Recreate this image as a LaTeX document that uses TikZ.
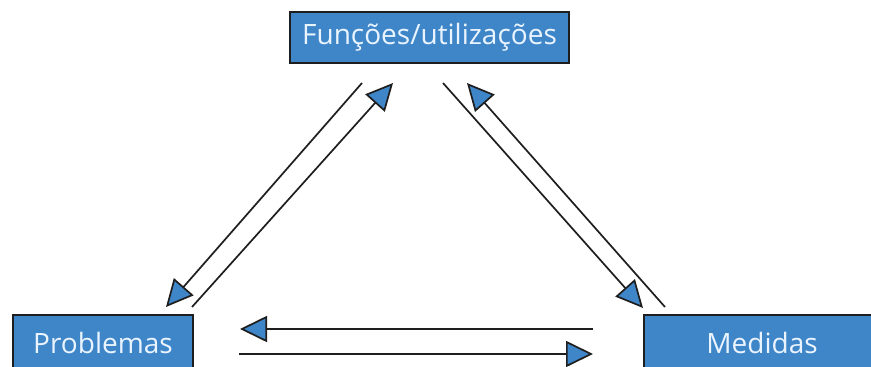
\documentclass[tikz,border=0pt]{standalone}
\usepackage{fontspec}
\setmainfont{Open Sans}
\usetikzlibrary{arrows.meta}
\definecolor{boxblue}{HTML}{3F86C8}
\definecolor{txtblue}{HTML}{EAF4FF}
\definecolor{linegray}{HTML}{1E1E1E}
\tikzset{
  box/.style={draw=linegray, line width=1.6pt, fill=boxblue, text=txtblue, inner sep=0pt, font=\fontsize{28}{31}\selectfont},
  conn/.style={draw=linegray, line width=1.7pt, -{Triangle[length=27pt,width=26pt,fill=boxblue]}}
}
\begin{document}
\begin{tikzpicture}[x=1pt,y=-1pt]
\useasboundingbox (0,0) rectangle (871,367);
\clip (0,0) rectangle (871,367);
\fill[white] (0,0) rectangle (871,367);
% boxes
\node[box, minimum width=279pt, minimum height=51pt] (fu) at (429.5,37.5) {Funções/utilizações};
\node[box, minimum width=180pt, minimum height=55pt] (pr) at (103,342.5) {Problemas};
\node[box, minimum width=236pt, minimum height=55pt] (me) at (762,342.5) {Medidas};
% connector end points
\coordinate (l1s) at (362,83);  \coordinate (l1e) at (166,307);
\coordinate (l2s) at (192,307); \coordinate (l2e) at (393,83);
\coordinate (r1s) at (443,83);  \coordinate (r1e) at (643,308);
\coordinate (r2s) at (665,307); \coordinate (r2e) at (467,83);
\coordinate (h1s) at (593,329); \coordinate (h1e) at (240,329);
\coordinate (h2s) at (239,354); \coordinate (h2e) at (593,354);
% connectors
\draw[conn] (l1s) -- (l1e);
\draw[conn] (l2s) -- (l2e);
\draw[conn] (r1s) -- (r1e);
\draw[conn] (r2s) -- (r2e);
\draw[conn] (h1s) -- (h1e);
\draw[conn] (h2s) -- (h2e);
\end{tikzpicture}
\end{document}
